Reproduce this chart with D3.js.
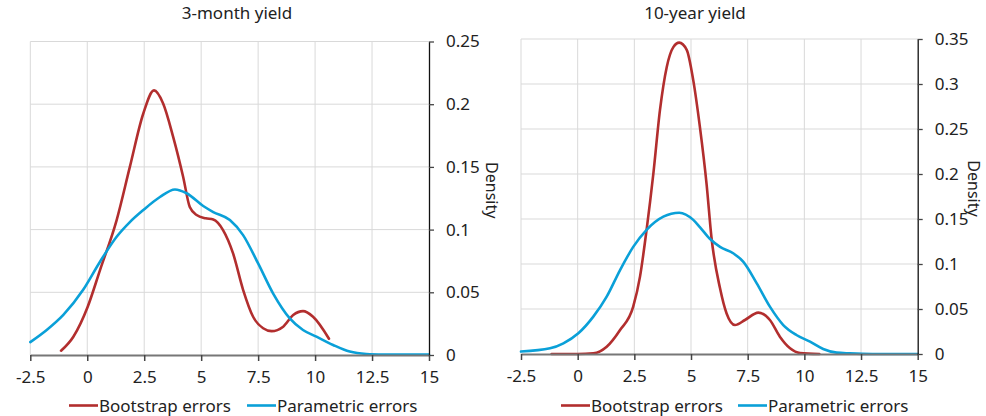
<!DOCTYPE html>
<html>
<head>
<meta charset="utf-8">
<script src="https://cdn.jsdelivr.net/npm/d3@7"></script>
<style>
  body { margin: 0; background: #fff; }
  svg text { font-family: "Noto Sans", "Open Sans", sans-serif; fill: #222; }
</style>
</head>
<body>
<script>
// tick labels
const xTicks = [-2.5, 0, 2.5, 5, 7.5, 10, 12.5, 15];
const yTicks3m = [0, 0.05, 0.1, 0.15, 0.2, 0.25];
const yTicks10y = [0, 0.05, 0.1, 0.15, 0.2, 0.25, 0.3, 0.35];

const seriesNames = ['Bootstrap errors', 'Parametric errors'];

// 3-month yield, bootstrap errors
const boot3mX = [-1.15, -0.61, 0.02, 0.56, 1.29, 1.87, 2.46, 2.93, 3.33, 3.77, 4.21, 4.5, 4.8, 5.2, 5.53, 5.96, 6.4, 6.84, 7.28, 7.72, 8.09, 8.6, 9.04, 9.47, 9.91, 10.61];
const boot3mY = [0.0034, 0.0146, 0.0385, 0.0677, 0.1076, 0.150, 0.1926, 0.211, 0.2006, 0.174, 0.142, 0.118, 0.1116, 0.109, 0.108, 0.0996, 0.081, 0.052, 0.0305, 0.0213, 0.019, 0.0226, 0.0319, 0.035, 0.0305, 0.013];

// 3-month yield, parametric errors
const par3mX = [-2.5, -1.78, -1.05, -0.18, 0.56, 1.29, 1.87, 2.46, 3.19, 3.85, 4.36, 5.09, 5.53, 6.26, 6.84, 7.5, 8.16, 8.89, 9.47, 10.06, 10.79, 11.52, 12.25, 13, 14, 15];
const par3mY = [0.0103, 0.020, 0.032, 0.052, 0.0744, 0.0943, 0.106, 0.1156, 0.126, 0.132, 0.129, 0.1188, 0.114, 0.1076, 0.0956, 0.073, 0.049, 0.0292, 0.0199, 0.0146, 0.008, 0.0027, 0.0008, 0.0004, 0.0003, 0.0003];

// 10-year yield, bootstrap errors
const boot10yX = [-1.15, 0, 0.69, 1.28, 1.87, 2.45, 2.75, 3.04, 3.34, 3.63, 3.93, 4.22, 4.48, 4.81, 5.10, 5.39, 5.69, 5.9, 6.28, 6.57, 6.94, 7.38, 7.97, 8.48, 8.92, 9.37, 9.81, 10.66];
const boot10yY = [0, 0, 0.0008, 0.0081, 0.0267, 0.0526, 0.086, 0.138, 0.2007, 0.271, 0.319, 0.341, 0.346, 0.338, 0.304, 0.2526, 0.188, 0.13, 0.073, 0.045, 0.0322, 0.0378, 0.046, 0.0378, 0.0192, 0.0063, 0.001, 0];

// 10-year yield, parametric errors
const par10yX = [-2.5, -1.22, -0.63, 0.03, 0.69, 1.28, 1.87, 2.45, 3.04, 3.78, 4.48, 5.10, 5.39, 5.83, 6.28, 6.86, 7.30, 7.90, 8.48, 9.07, 9.65, 10.25, 10.83, 11.42, 12.0, 13, 14, 15];
const par10yY = [0.0027, 0.0063, 0.0119, 0.023, 0.0415, 0.0637, 0.0933, 0.119, 0.138, 0.1526, 0.157, 0.149, 0.141, 0.128, 0.119, 0.112, 0.1026, 0.0785, 0.0526, 0.0322, 0.0211, 0.0137, 0.0056, 0.0015, 0.0007, 0, 0, 0];

const colors = ['#b22e2e', '#0aa0d8'];
const FS = 17;

const W = 986, H = 416;
const svg = d3.select('body').append('svg')
    .attr('width', W)
    .attr('height', H);

const panels = [
    {
        title: '3-month yield', titleX: 237,
        left: 30.3, right: 429, top: 41.5, bottom: 355,
        yMax: 0.25, yTicks: yTicks3m,
        series: [[boot3mX, boot3mY], [par3mX, par3mY]],
        labelX: 486,
        legendX: 69, legendGap: 178
    },
    {
        title: '10-year yield', titleX: 695,
        left: 521, right: 917.7, top: 39, bottom: 354,
        yMax: 0.35, yTicks: yTicks10y,
        series: [[boot10yX, boot10yY], [par10yX, par10yY]],
        labelX: 968,
        legendX: 561, legendGap: 177
    }
];

panels.forEach(p => drawPanel(p));

function drawPanel(p) {
    let x = d3.scaleLinear().domain([-2.5, 15]).range([p.left, p.right]);
    let y = d3.scaleLinear().domain([0, p.yMax]).range([p.bottom, p.top]);
    let g = svg.append('g');

    // grid
    g.append('g').selectAll('line').data(xTicks.slice(0, -1)).enter().append('line')
        .attr('x1', d => x(d)).attr('x2', d => x(d))
        .attr('y1', y(p.yMax)).attr('y2', y(0))
        .attr('stroke', '#d9d9d9').attr('stroke-width', 1);
    g.append('g').selectAll('line').data(p.yTicks.slice(1)).enter().append('line')
        .attr('x1', x(-2.5)).attr('x2', x(15))
        .attr('y1', d => y(d)).attr('y2', d => y(d))
        .attr('stroke', '#d9d9d9').attr('stroke-width', 1);

    // curves
    let line = d3.line()
        .x(d => x(d[0]))
        .y(d => y(d[1]))
        .curve(d3.curveMonotoneX);
    p.series.forEach((s, i) => {
        let pts = s[0].map((v, j) => [v, s[1][j]]);
        g.append('path')
            .attr('d', line(pts))
            .attr('fill', 'none')
            .attr('stroke', colors[i])
            .attr('stroke-width', 2.6)
            .attr('stroke-linejoin', 'round')
            .attr('stroke-linecap', 'round');
    });

    // x axis
    let xAxis = g.append('g')
        .attr('transform', `translate(0,${y(0)})`)
        .call(d3.axisBottom(x).tickValues(xTicks).tickFormat(d => String(d)).tickSize(6).tickPadding(10).tickSizeOuter(0));
    xAxis.select('.domain').attr('stroke', '#777').attr('stroke-width', 2);
    xAxis.selectAll('.tick line').attr('stroke', '#444').attr('stroke-width', 1.5);
    xAxis.selectAll('text').attr('font-size', FS).attr('fill', '#222').attr('font-family', '"Noto Sans", sans-serif');

    // y axis (right)
    let yAxis = g.append('g')
        .attr('transform', `translate(${x(15)},0)`)
        .call(d3.axisRight(y).tickValues(p.yTicks).tickFormat(d => String(d)).tickSize(5).tickPadding(12).tickSizeOuter(0));
    yAxis.select('.domain').attr('stroke', '#111').attr('stroke-width', 1.3);
    yAxis.selectAll('.tick line').attr('stroke', '#444').attr('stroke-width', 1.3);
    yAxis.selectAll('text').attr('font-size', FS).attr('fill', '#222').attr('font-family', '"Noto Sans", sans-serif');

    // title
    svg.append('text')
        .attr('x', p.titleX).attr('y', 19)
        .attr('text-anchor', 'middle')
        .attr('font-size', FS)
        .text(p.title);

    // y label
    svg.append('text')
        .attr('transform', `translate(${p.labelX},${(p.top + p.bottom) / 2 - 8}) rotate(90)`)
        .attr('text-anchor', 'middle')
        .attr('font-size', 16)
        .text('Density');

    // legend
    let lg = svg.append('g').attr('transform', `translate(${p.legendX},405.5)`);
    seriesNames.forEach((name, i) => {
        let ox = i * p.legendGap;
        lg.append('line')
            .attr('x1', ox).attr('x2', ox + 29)
            .attr('stroke', colors[i]).attr('stroke-width', 2.6);
        lg.append('text')
            .attr('x', ox + 30).attr('y', 6)
            .attr('font-size', FS)
            .text(name);
    });
}
</script>
</body>
</html>
